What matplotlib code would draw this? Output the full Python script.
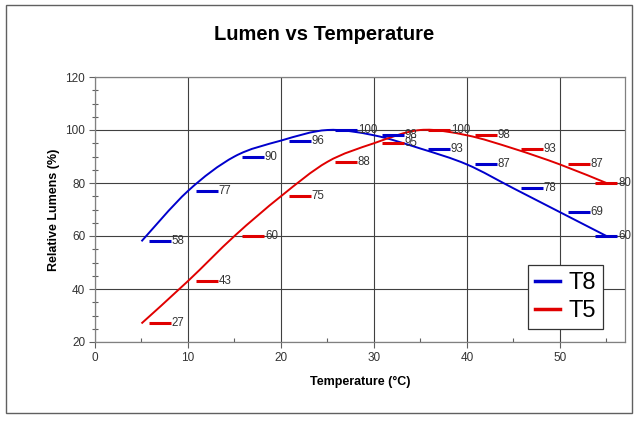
import numpy as np
import matplotlib
matplotlib.use("Agg")
import matplotlib.pyplot as plt
from matplotlib.path import Path
from matplotlib.patches import PathPatch, Rectangle
from matplotlib.lines import Line2D

plt.rcParams['font.family'] = ['Liberation Sans', 'DejaVu Sans']

# data
temps = [5, 10, 15, 20, 25, 30, 35, 40, 45, 50, 55]
t8 = [58, 77, 90, 96, 100, 98, 93, 87, 78, 69, 60]
t5 = [27, 43, 60, 75, 88, 95, 100, 98, 93, 87, 80]
# x of the little dash markers carrying the value labels
label_x = [7, 12, 17, 22, 27, 32, 37, 42, 47, 52, 55]

blue = '#0000cc'
red = '#e00000'


def smooth_path(xs, ys):
    # excel-like smoothed line: bezier segments through the points
    pts = np.column_stack([xs, ys]).astype(float)
    n = len(pts)
    verts = [pts[0]]
    codes = [Path.MOVETO]
    for i in range(n - 1):
        p0 = pts[max(i - 1, 0)]
        p1 = pts[i]
        p2 = pts[i + 1]
        p3 = pts[min(i + 2, n - 1)]
        c1 = p1 + (p2 - p0) / 6.0
        c2 = p2 - (p3 - p1) / 6.0
        verts += [c1, c2, p2]
        codes += [Path.CURVE4] * 3
    return Path(verts, codes)


fig = plt.figure(figsize=(6.39, 4.21), dpi=100)
# outer chart border
fig.patches.append(Rectangle((6 / 639, 1 - 413 / 421), 626 / 639, 408 / 421,
                             transform=fig.transFigure, fill=False,
                             ec='#606060', lw=1.0))

ax = fig.add_axes([95 / 639, 1 - 342 / 421, 530 / 639, 265 / 421])
ax.set_xlim(0, 57)
ax.set_ylim(20, 120)

for xs, ys, c in [(temps, t8, blue), (temps, t5, red)]:
    ax.add_patch(PathPatch(smooth_path(xs, ys), fill=False, ec=c, lw=1.4, zorder=3))

for vals, c in [(t8, blue), (t5, red)]:
    ax.plot(label_x, vals, ls='none', marker='_', ms=16.5, mew=2.2, color=c, zorder=4)
    for x, v in zip(label_x, vals):
        ax.annotate(str(v), (x, v), xytext=(8.5, 0), textcoords='offset points',
                    va='center', ha='left', fontsize=8.3, color='#333333', zorder=5)

ax.set_xticks(range(0, 51, 10))
ax.set_xticks(range(0, 57, 5), minor=True)
ax.set_yticks(range(20, 121, 20))
ax.set_yticks(range(20, 121, 5), minor=True)
ax.grid(which='major', color='#404040', lw=0.8)
ax.set_axisbelow(True)
for s in ax.spines.values():
    s.set_color('#808080')
    s.set_linewidth(0.9)
ax.tick_params(which='major', length=4, width=0.8, color='#606060',
               labelsize=8.5, labelcolor='#333333', pad=3)
ax.tick_params(axis='x', which='minor', direction='in', length=3, width=0.8, color='#606060')
ax.tick_params(axis='y', which='minor', direction='inout', length=4, width=0.8, color='#606060')

ax.set_xlabel('Temperature (°C)', fontsize=9, fontweight='bold', labelpad=9)
ax.set_ylabel('Relative Lumens (%)', fontsize=9, fontweight='bold', labelpad=4)
fig.text(324 / 639, 1 - 35 / 421, 'Lumen vs Temperature', fontsize=14.5,
         fontweight='bold', ha='center', va='center')

handles = [Line2D([], [], color=blue, lw=2.5), Line2D([], [], color=red, lw=2.5)]
leg = ax.legend(handles, ['T8', 'T5'], loc='lower right', bbox_to_anchor=(0.958, 0.049),
                fontsize=17, fancybox=False, framealpha=1, edgecolor='#333333',
                handlelength=1.05, handletextpad=0.35, borderpad=0.3, labelspacing=0.25,
                borderaxespad=0)
leg.get_frame().set_linewidth(0.9)

fig.savefig('out.png', dpi=100)
